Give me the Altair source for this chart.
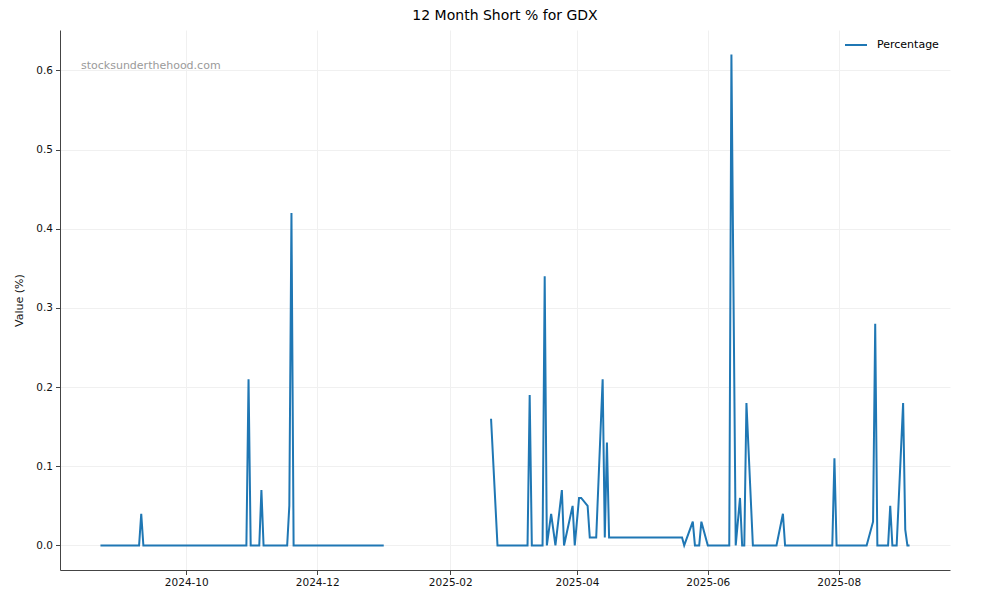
import altair as alt
import pandas as pd

# Segment 1 (Aug 2024 - Jan 2025)
dates_1 = ["2024-08-22", "2024-09-09", "2024-09-10", "2024-09-11", "2024-10-29",
           "2024-10-30", "2024-10-31", "2024-11-04", "2024-11-05", "2024-11-06",
           "2024-11-17", "2024-11-18", "2024-11-19", "2024-11-20", "2025-01-01"]
values_1 = [0.0, 0.0, 0.04, 0.0, 0.0,
            0.21, 0.0, 0.0, 0.07, 0.0,
            0.0, 0.05, 0.42, 0.0, 0.0]

# Segment 2 (Feb 2025 - Sep 2025)
dates_2 = ["2025-02-20", "2025-02-23", "2025-03-09", "2025-03-10", "2025-03-11",
           "2025-03-16", "2025-03-17", "2025-03-18", "2025-03-20", "2025-03-22",
           "2025-03-25", "2025-03-26", "2025-03-30", "2025-03-31", "2025-04-02",
           "2025-04-03", "2025-04-06", "2025-04-07", "2025-04-10", "2025-04-13",
           "2025-04-14", "2025-04-15", "2025-04-16", "2025-05-20", "2025-05-21",
           "2025-05-25", "2025-05-26", "2025-05-28", "2025-05-29", "2025-06-01",
           "2025-06-11", "2025-06-12", "2025-06-14", "2025-06-16", "2025-06-17",
           "2025-06-18", "2025-06-19", "2025-06-22", "2025-07-03", "2025-07-06",
           "2025-07-07", "2025-07-29", "2025-07-30", "2025-07-31", "2025-08-14",
           "2025-08-17", "2025-08-18", "2025-08-19", "2025-08-24", "2025-08-25",
           "2025-08-26", "2025-08-28", "2025-08-31", "2025-09-01", "2025-09-02",
           "2025-09-03"]
values_2 = [0.16, 0.0, 0.0, 0.19, 0.0,
            0.0, 0.34, 0.0, 0.04, 0.0,
            0.07, 0.0, 0.05, 0.0, 0.06,
            0.06, 0.05, 0.01, 0.01, 0.21,
            0.01, 0.13, 0.01, 0.01, 0.0,
            0.03, 0.0, 0.0, 0.03, 0.0,
            0.0, 0.62, 0.0, 0.06, 0.0,
            0.0, 0.18, 0.0, 0.0, 0.04,
            0.0, 0.0, 0.11, 0.0, 0.0,
            0.03, 0.28, 0.0, 0.0, 0.05,
            0.0, 0.0, 0.18, 0.02, 0.0,
            0.0]

x_ticks = ["2024-10-01", "2024-12-01", "2025-02-01", "2025-04-01", "2025-06-01", "2025-08-01"]
y_ticks = [0.0, 0.1, 0.2, 0.3, 0.4, 0.5, 0.6]

TITLE = "12 Month Short % for GDX"
WATERMARK = "stocksunderthehood.com"

df = pd.concat([
    pd.DataFrame({"date": dates_1, "value": values_1, "segment": "s1"}),
    pd.DataFrame({"date": dates_2, "value": values_2, "segment": "s2"}),
], ignore_index=True)
df["series"] = "Percentage"

# matplotlib-like 5% margins
d = pd.to_datetime(df["date"])
span = d.max() - d.min()
x0 = (d.min() - 0.05 * span).value // 10**6
x1 = (d.max() + 0.05 * span).value // 10**6
vmin, vmax = min(df["value"]), max(df["value"])
ypad = 0.05 * (vmax - vmin)

FONT = "DejaVu Sans"

def dt(s):
    t = pd.Timestamp(s)
    return alt.DateTime(year=t.year, month=t.month, date=t.day, utc=True)

line = alt.Chart(df).mark_line(strokeWidth=2).encode(
    x=alt.X("date:T",
            scale=alt.Scale(type="utc", domain=[int(x0), int(x1)], nice=False),
            axis=alt.Axis(title=None, values=[dt(s) for s in x_ticks], format="%Y-%m",
                          labelFontSize=10.5, labelPadding=3, tickSize=4.5)),
    y=alt.Y("value:Q",
            scale=alt.Scale(domain=[vmin - ypad, vmax + ypad], nice=False, zero=False),
            axis=alt.Axis(title="Value (%)", values=y_ticks, format=".1f",
                          labelFontSize=10.5, labelPadding=3, tickSize=4.5,
                          titleFontSize=11, titleFontWeight="normal", titlePadding=11)),
    color=alt.Color("series:N", scale=alt.Scale(range=["#1f77b4"]),
                    legend=alt.Legend(title=None, orient="none", legendX=784, legendY=3,
                                      symbolType="stroke", symbolSize=484,
                                      symbolStrokeWidth=2, labelFontSize=11,
                                      labelOffset=9, labelFont=FONT)),
    detail="segment:N",
)

watermark = alt.Chart(pd.DataFrame({"t": [WATERMARK]})).mark_text(
    align="left", baseline="middle", fontSize=11, font=FONT, color="#9a9a9a"
).encode(x=alt.value(21), y=alt.value(36), text="t:N")

title = alt.Chart(pd.DataFrame({"t": [TITLE]})).mark_text(
    align="center", baseline="alphabetic", fontSize=14, font=FONT, color="#000"
).encode(x=alt.value(445), y=alt.value(-10), text="t:N")

chart = alt.layer(line, watermark, title).properties(
    width=890, height=540,
    autosize=alt.AutoSizeParams(type="none"),
    padding={"left": 52, "top": 22, "right": 42, "bottom": 22},
).configure_view(stroke=None).configure_axis(
    labelFont=FONT, titleFont=FONT, labelColor="#111", titleColor="#111",
    domainColor="#444", tickColor="#444", domainWidth=1, tickWidth=1,
    gridColor="#f0f0f0", gridWidth=1,
)

chart.save("out.html", embed_options={"renderer": "svg", "actions": False})
